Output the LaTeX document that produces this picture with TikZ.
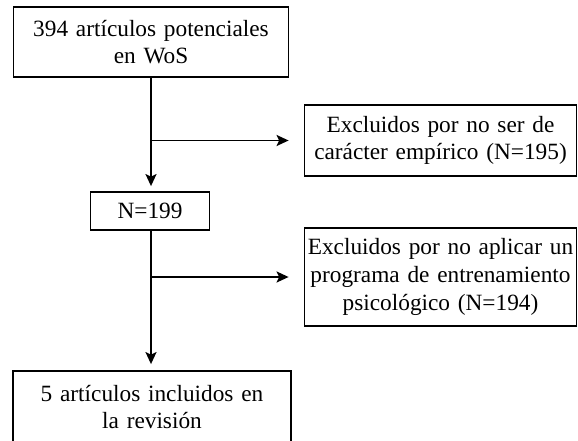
\documentclass[tikz,border=0pt]{standalone}
\usepackage{fontspec}
\setmainfont{Liberation Serif}
\usetikzlibrary{arrows.meta}
\begin{document}
\begin{tikzpicture}[x=1pt,y=-1pt,
  box/.style={draw=black, line width=1.8pt, inner sep=0pt, align=center,
    font=\fontsize{23.3}{27.6}\selectfont},
  flow/.style={line width=1.8pt, -{Stealth[length=12pt,width=11pt,inset=2.5pt]}}]
  \clip (0,0) rectangle (578,441);
  \fill[white] (0,0) rectangle (578,441);

  % main column
  \node[box, minimum width=275pt, minimum height=70pt, text width=270pt] (start) at (151,42)
    {394 artículos potenciales\\ en WoS};
  \node[box, minimum width=119pt, minimum height=38pt] (mid) at (150,211) {N=199};
  \node[box, minimum width=278pt, minimum height=72pt, text width=270pt] (final) at (152,407)
    {5 artículos incluidos en\\ la revisión};

  % exclusion boxes
  \node[box, minimum width=272pt, minimum height=71pt, text width=268pt] (excl1) at (440.5,140.5)
    {Excluidos por no ser de\\ carácter empírico (N=195)};
  \node[box, minimum width=272pt, minimum height=98pt, text width=268pt] (excl2) at (440.5,277)
    {Excluidos por no aplicar un\\ programa de entrenamiento\\ psicológico (N=194)};

  % connectors
  \coordinate (split1) at (start.south |- excl1.west);
  \coordinate (split2) at (start.south |- excl2.west);
  \draw[flow, shorten >=5pt] (start.south) -- (start.south |- mid.north);
  \draw[flow, shorten >=15pt] (split1) -- (excl1.west);
  \draw[flow, shorten >=6pt] (start.south |- mid.south) -- (start.south |- final.north);
  \draw[flow, shorten >=15pt] (split2) -- (excl2.west);
\end{tikzpicture}
\end{document}
